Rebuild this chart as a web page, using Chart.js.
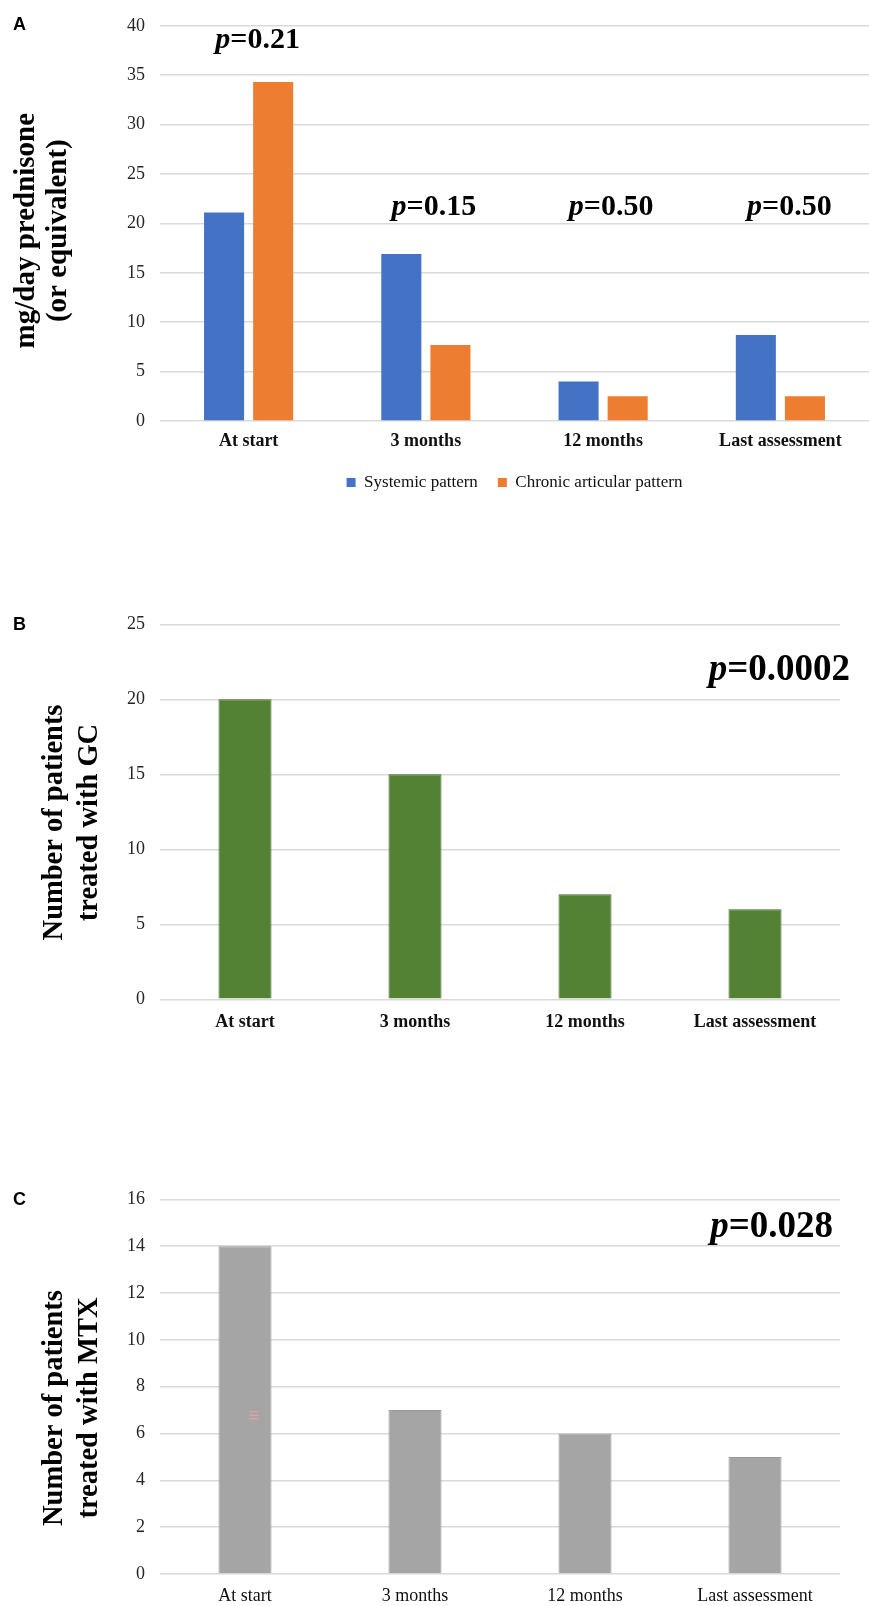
<!DOCTYPE html>
<html>
<head>
<meta charset="utf-8">
<script src="https://cdn.jsdelivr.net/npm/chart.js@4.4.1/dist/chart.umd.min.js"></script>
<style>
  html, body { margin: 0; padding: 0; background: #fff; }
  #page { position: relative; width: 869px; height: 1606px; background: #fff; overflow: hidden; }
  #page canvas { position: absolute; left: 0; }
  .tag { position: absolute; left: 13px; font: bold 18px "Liberation Sans", Arial, sans-serif; color: #000; line-height: 18px; }
</style>
</head>
<body>
<div id="page">
  <canvas id="chartA" width="869" height="505" style="top:0px"></canvas>
  <canvas id="chartB" width="869" height="480" style="top:560px"></canvas>
  <canvas id="chartC" width="869" height="476" style="top:1130px"></canvas>
  <div class="tag" style="top:15px">A</div>
  <div class="tag" style="top:615px">B</div>
  <div class="tag" style="top:1190px">C</div>
</div>
<script>
// Time points shared by all three panels
const timepoints = ['At start', '3 months', '12 months', 'Last assessment'];

// Panel A: daily glucocorticoid dose (mg/day prednisone or equivalent)
const systemicDose = [21.1, 16.9, 4.0, 8.7];
const articularDose = [34.3, 7.7, 2.5, 2.5];
const doseP = ['0.21', '0.15', '0.50', '0.50'];

// Panel B: patients on glucocorticoids
const gcPatients = [20, 15, 7, 6];
const gcP = '0.0002';

// Panel C: patients on methotrexate
const mtxPatients = [14, 7, 6, 5];
const mtxP = '0.028';

const SERIF = '"Liberation Serif", "Times New Roman", serif';
const GRID = '#d9d9d9';

// Pads each axis-title line at its end so the text sits a little lower on the axis
const padTitle = (lines, n) => lines.map(s => s + ' '.repeat(n));

// Draws "p=..." annotations: italic p, bold remainder
const pValuePlugin = {
  id: 'pValues',
  afterDatasetsDraw(chart, args, opts) {
    const { ctx, chartArea } = chart;
    const x = chart.scales.x, y = chart.scales.y;
    (opts.items || []).forEach(it => {
      const px = (it.index != null ? x.getPixelForValue(it.index) : chartArea.right) + (it.dx || 0);
      const py = y.getPixelForValue(it.value);
      const italic = `italic bold ${opts.size}px ${SERIF}`;
      const bold = `bold ${opts.size}px ${SERIF}`;
      ctx.save();
      ctx.textAlign = 'left';
      ctx.textBaseline = 'alphabetic';
      ctx.fillStyle = '#000';
      ctx.font = italic;
      const wp = ctx.measureText('p').width;
      ctx.font = bold;
      const rest = '=' + it.text;
      const wr = ctx.measureText(rest).width;
      const total = wp + wr;
      const left = it.align === 'right' ? px - total : px - total / 2;
      ctx.font = italic;
      ctx.fillText('p', left, py);
      ctx.font = bold;
      ctx.fillText(rest, left + wp, py);
      ctx.restore();
    });
  }
};

// Small pink mark printed on the first MTX bar
const markPlugin = {
  id: 'mark',
  afterDatasetsDraw(chart, args, opts) {
    if (!opts.show) return;
    const { ctx } = chart;
    const px = chart.scales.x.getPixelForValue(opts.index) + opts.dx;
    const py = chart.scales.y.getPixelForValue(opts.value);
    ctx.save();
    ctx.strokeStyle = '#f2a0a0';
    ctx.lineWidth = 1;
    for (let k = -1; k <= 1; k++) {
      ctx.beginPath();
      ctx.moveTo(px - 5, py + k * 3.5 + 0.5);
      ctx.lineTo(px + 5, py + k * 3.5 + 0.5);
      ctx.stroke();
    }
    ctx.restore();
  }
};

function yScale(max, step, titleLines, titleSize, titleLH, titlePad) {
  return {
    min: 0, max: max,
    afterFit(s) { s.width = 160; },
    grid: { color: GRID, lineWidth: 1.5, drawTicks: false },
    border: { display: false },
    ticks: { stepSize: step, padding: 15, color: '#262626', font: { family: SERIF, size: 18 } },
    title: {
      display: true, text: titleLines, color: '#000',
      font: { family: SERIF, size: titleSize, weight: 'bold', lineHeight: titleLH },
      padding: { top: titlePad, bottom: 0 }
    }
  };
}

function xScale(height, bold, pad) {
  return {
    afterFit(s) { s.height = height; },
    grid: { display: false, drawTicks: false },
    border: { display: false },
    ticks: { padding: pad, color: '#111', maxRotation: 0, autoSkip: false,
             font: { family: SERIF, size: 18, weight: bold ? 'bold' : 'normal' } }
  };
}

// Panel A
new Chart(document.getElementById('chartA'), {
  type: 'bar',
  data: {
    labels: timepoints,
    datasets: [
      { label: 'Systemic pattern', data: systemicDose, backgroundColor: '#4472C4',
        categoryPercentage: 0.554, barPercentage: 0.816 },
      { label: 'Chronic articular pattern', data: articularDose, backgroundColor: '#ED7D31',
        categoryPercentage: 0.554, barPercentage: 0.816 }
    ]
  },
  options: {
    responsive: false, animation: false, devicePixelRatio: 1,
    layout: { padding: { top: 25, right: 0, bottom: 4, left: 0 } },
    scales: {
      x: xScale(33, true, 10),
      y: yScale(40, 5, padTitle(['mg/day prednisone', '(or equivalent)'], 2), 29, 1.1, 11)
    },
    plugins: {
      legend: {
        position: 'bottom', fullSize: false,
        labels: { boxWidth: 9, boxHeight: 9, padding: 20, color: '#111',
                  font: { family: SERIF, size: 17 } }
      },
      tooltip: { enabled: false },
      pValues: {
        size: 30,
        items: [
          { text: doseP[0], index: 0, dx: 9, value: 37.8 },
          { text: doseP[1], index: 1, dx: 8, value: 20.9 },
          { text: doseP[2], index: 2, dx: 8, value: 20.9 },
          { text: doseP[3], index: 3, dx: 9, value: 20.9 }
        ]
      }
    }
  },
  plugins: [pValuePlugin]
});

// Panel B
new Chart(document.getElementById('chartB'), {
  type: 'bar',
  data: {
    labels: timepoints,
    datasets: [
      { label: 'Patients treated with GC', data: gcPatients, backgroundColor: '#548235',
        borderColor: '#3f6a27', borderWidth: 1, categoryPercentage: 1, barPercentage: 0.312 }
    ]
  },
  options: {
    responsive: false, animation: false, devicePixelRatio: 1,
    layout: { padding: { top: 64.3, right: 29, bottom: 0.7, left: 0 } },
    scales: {
      x: xScale(40, true, 12),
      y: yScale(25, 5, padTitle(['Number of patients', 'treated with GC'], 3), 28.5, 1.2, 38)
    },
    plugins: {
      legend: { display: false },
      tooltip: { enabled: false },
      pValues: { size: 37, items: [{ text: gcP, dx: 10, value: 21.3, align: 'right' }] }
    }
  },
  plugins: [pValuePlugin]
});

// Panel C
new Chart(document.getElementById('chartC'), {
  type: 'bar',
  data: {
    labels: timepoints,
    datasets: [
      { label: 'Patients treated with MTX', data: mtxPatients, backgroundColor: '#A5A5A5',
        borderColor: '#9a9a9a', borderWidth: 1, categoryPercentage: 1, barPercentage: 0.312 }
    ]
  },
  options: {
    responsive: false, animation: false, devicePixelRatio: 1,
    layout: { padding: { top: 69.3, right: 29, bottom: 0, left: 0 } },
    scales: {
      x: xScale(32, false, 11),
      y: yScale(16, 2, padTitle(['Number of patients', 'treated with MTX'], 6), 28.5, 1.2, 38)
    },
    plugins: {
      legend: { display: false },
      tooltip: { enabled: false },
      pValues: { size: 37, items: [{ text: mtxP, dx: -7, value: 14.4, align: 'right' }] },
      mark: { show: true, index: 0, dx: 9, value: 6.8 }
    }
  },
  plugins: [pValuePlugin, markPlugin]
});
</script>
</body>
</html>
